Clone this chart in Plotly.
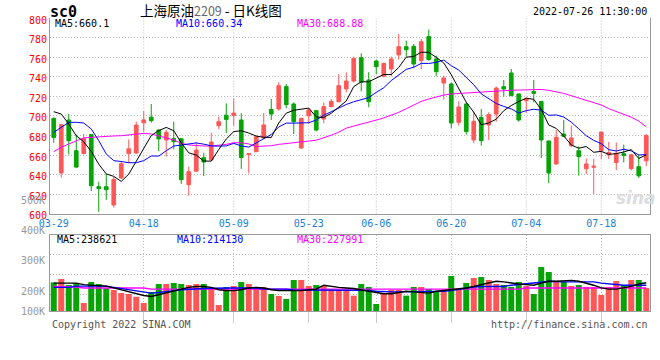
import plotly.graph_objects as go

# ---------------- data ----------------
dates = ["03-29", "03-30", "03-31",
         "04-01", "04-06", "04-07", "04-08", "04-11", "04-12", "04-13", "04-14", "04-15",
         "04-18", "04-19", "04-20", "04-21", "04-22", "04-25", "04-26", "04-27", "04-28", "04-29",
         "05-05", "05-06", "05-09", "05-10", "05-11", "05-12", "05-13", "05-16", "05-17", "05-18",
         "05-19", "05-20", "05-23", "05-24", "05-25", "05-26", "05-27", "05-30", "05-31",
         "06-01", "06-02", "06-06", "06-07", "06-08", "06-09", "06-10", "06-13", "06-14", "06-15",
         "06-16", "06-17", "06-20", "06-21", "06-22", "06-23", "06-24", "06-27", "06-28", "06-29",
         "06-30", "07-01", "07-04", "07-05", "07-06", "07-07", "07-08", "07-11", "07-12", "07-13",
         "07-14", "07-15", "07-18", "07-19", "07-20", "07-21", "07-22", "07-25", "07-26"]

open_ = [697.6, 641.6, 695.9, 664.4, 661.5, 681.0, 627.5, 627.5, 608.7, 636.5,
         661.5, 662.0, 693.0, 698.8, 685.6, 675.4, 676.7, 676.7, 629.5, 643.4,
         657.2, 655.0, 690.1, 700.8, 700.5, 695.9, 660.3, 663.4, 677.5, 706.8,
         707.2, 730.1, 712.3, 667.2, 700.3, 705.5, 696.9, 709.6, 714.7, 727.7,
         735.9, 759.8, 736.9, 756.4, 740.7, 748.2, 762.6, 771.1, 771.5, 756.8,
         781.4, 758.5, 733.8, 732.8, 693.5, 712.3, 675.4, 698.6, 690.8, 702.0,
         730.1, 744.1, 722.6, 715.6, 725.0, 715.0, 674.4, 650.8, 681.5, 669.6,
         664.4, 645.8, 647.4, 664.4, 660.2, 652.3, 661.4, 646.0, 648.0, 654.0]
high = [698.5, 692.0, 702.0, 681.0, 681.5, 681.5, 632.5, 640.5, 637.5, 654.0,
        676.0, 694.2, 705.0, 712.3, 686.0, 685.8, 694.1, 677.0, 648.0, 673.3,
        662.3, 682.9, 699.3, 713.0, 718.0, 702.9, 661.5, 680.0, 703.1, 717.4,
        734.5, 732.8, 714.0, 698.0, 708.2, 706.2, 714.0, 717.4, 743.1, 744.8,
        760.9, 764.3, 745.0, 757.8, 754.3, 760.9, 784.1, 777.3, 773.8, 779.0,
        788.5, 761.9, 741.4, 734.5, 715.0, 714.0, 704.0, 707.2, 703.8, 730.1,
        736.9, 748.2, 722.8, 719.1, 736.9, 715.2, 674.6, 685.6, 695.9, 690.1,
        669.0, 656.3, 656.3, 683.8, 673.3, 672.8, 670.7, 661.3, 660.0, 681.5]
low = [672.6, 637.0, 660.5, 647.0, 660.5, 623.0, 601.8, 614.0, 606.0, 635.4,
       651.5, 661.0, 684.0, 693.1, 664.0, 658.3, 665.8, 630.3, 618.3, 642.9,
       638.5, 654.2, 686.4, 682.5, 690.0, 645.8, 641.2, 663.0, 677.0, 695.9,
       705.5, 707.9, 681.5, 666.2, 691.8, 684.3, 692.5, 708.9, 714.0, 724.3,
       734.5, 725.3, 708.9, 743.0, 739.6, 740.7, 757.8, 760.9, 749.0, 748.2,
       756.8, 740.7, 716.8, 687.4, 690.1, 681.0, 672.0, 669.6, 675.4, 694.2,
       719.8, 720.2, 694.2, 703.1, 714.0, 656.9, 631.3, 650.0, 678.1, 667.9,
       638.8, 640.5, 620.0, 655.8, 655.8, 644.5, 652.5, 644.2, 636.5, 648.5]
close = [678.0, 691.0, 674.6, 647.6, 677.0, 628.5, 625.5, 624.4, 635.0, 651.0,
         666.3, 690.8, 696.0, 695.2, 676.5, 683.1, 673.6, 634.7, 642.9, 665.0,
         652.8, 673.3, 694.2, 696.5, 703.0, 657.4, 661.2, 678.8, 690.8, 702.0,
         731.1, 711.6, 694.2, 697.6, 706.2, 685.6, 709.6, 715.0, 731.1, 735.9,
         759.1, 734.5, 714.7, 750.6, 754.0, 758.5, 771.1, 768.0, 753.3, 776.2,
         757.8, 745.5, 739.0, 692.8, 709.2, 684.0, 694.5, 674.7, 701.4, 728.7,
         727.7, 720.9, 695.9, 718.0, 723.2, 675.4, 641.5, 678.1, 679.1, 677.4,
         658.3, 650.8, 648.5, 683.5, 662.5, 661.7, 659.5, 660.2, 638.6, 680.0]

ma5 = [704.4, 702.0, 691.8, 679.8, 673.6, 663.7, 650.6, 640.6, 638.1, 632.9,
       640.4, 653.5, 667.8, 679.9, 685.0, 688.3, 684.9, 672.6, 662.2, 659.9,
       653.8, 653.7, 665.6, 676.4, 684.0, 684.9, 682.5, 679.4, 678.2, 678.0,
       692.8, 702.9, 705.9, 707.3, 708.1, 699.0, 698.6, 702.8, 709.5, 715.4,
       730.1, 735.1, 735.1, 739.0, 742.6, 742.5, 749.8, 760.4, 761.0, 765.4,
       765.3, 760.2, 754.4, 742.3, 728.9, 714.1, 703.9, 691.0, 692.8, 696.7,
       705.4, 710.7, 714.9, 718.2, 717.1, 706.7, 690.8, 687.2, 679.5, 670.3,
       666.9, 668.7, 662.8, 663.7, 660.7, 661.4, 663.1, 665.5, 656.5, 660.1]
ma10 = [683.2, 688.3, 693.5, 693.5, 692.8, 686.7, 674.7, 661.0, 654.2, 653.3,
        652.1, 652.1, 654.2, 659.0, 658.9, 664.4, 669.2, 670.2, 671.0, 672.4,
        671.1, 669.3, 669.1, 669.3, 671.9, 669.3, 668.1, 672.5, 677.3, 681.0,
        688.8, 692.7, 692.7, 692.8, 693.1, 695.9, 700.8, 704.4, 708.4, 711.8,
        714.6, 716.9, 718.9, 724.2, 729.0, 736.3, 742.5, 747.8, 750.0, 754.0,
        753.9, 755.0, 757.4, 751.6, 747.1, 739.7, 732.0, 722.7, 717.5, 712.8,
        709.8, 707.3, 703.0, 705.5, 706.9, 706.0, 700.7, 701.1, 698.9, 693.7,
        686.8, 679.8, 675.0, 671.6, 665.5, 664.1, 665.9, 664.2, 660.1, 660.3]
ma30 = [663.5, 667.9, 671.3, 674.7, 677.5, 678.1, 678.8, 679.1, 679.5, 679.8,
        680.5, 681.5, 682.2, 681.5, 679.8, 677.5, 675.4, 672.0, 670.3, 669.6,
        669.2, 669.2, 669.9, 670.9, 672.6, 672.6, 671.3, 668.6, 669.2, 669.5,
        670.9, 671.6, 672.3, 673.0, 674.3, 675.2, 677.6, 680.3, 683.4, 687.5,
        689.7, 691.5, 693.6, 695.8, 698.0, 700.6, 703.8, 707.4, 711.0, 715.0,
        717.4, 719.6, 721.5, 722.6, 723.1, 723.6, 724.3, 724.8, 725.4, 726.0,
        726.2, 726.4, 726.6, 727.0, 727.5, 727.2, 726.3, 725.0, 723.2, 720.8,
        718.6, 716.4, 714.2, 711.3, 707.5, 704.8, 702.0, 698.8, 694.8, 688.9]

volume = [238500, 249500, 229700, 236300, 170300, 239600, 233000, 218800, 213200, 203300,
          200000, 191000, 170300, 206600, 233000, 233000, 236300, 233000, 229700, 233000,
          233000, 218800, 163700, 223100, 226400, 239600, 233000, 223100, 223100, 200000,
          193400, 183500, 246200, 246200, 226400, 229700, 226400, 213200, 213200, 213200,
          194500, 233000, 223100, 167000, 202200, 213200, 213200, 194500, 223100, 223100,
          216500, 207700, 207700, 259400, 213200, 236300, 252800, 256000, 246200, 233000,
          229700, 223100, 239600, 226400, 200000, 289000, 272600, 239600, 239600, 226400,
          229700, 223100, 223100, 196700, 223100, 242900, 229700, 246200, 246200, 219800]
vol_ma5 = [236000, 236000, 236000, 236000, 231000, 230000, 228000, 226000, 220000, 214000,
           207000, 201000, 195000, 192000, 198000, 203000, 209000, 214000, 222000, 225000,
           225000, 222000, 214000, 211000, 211000, 214000, 220000, 222000, 220000, 214000,
           211000, 211000, 211000, 211000, 214000, 216000, 229000, 225000, 222000, 220000,
           218000, 213000, 209000, 203000, 201000, 201000, 205000, 209000, 207000, 205000,
           203000, 209000, 212000, 214000, 216000, 220000, 225000, 231000, 236000, 242000,
           240000, 236000, 233000, 231000, 229000, 236000, 242000, 242000, 244000, 245000,
           242000, 236000, 229000, 220000, 216000, 216000, 220000, 225000, 233000, 237000]
vol_ma10 = [222000, 222000, 222000, 226000, 226000, 226000, 226000, 226000, 222000, 218000,
            214000, 211000, 207000, 203000, 205000, 209000, 211000, 214000, 216000, 216000,
            218000, 219000, 220000, 220000, 220000, 220000, 220000, 220000, 216000, 216000,
            216000, 216000, 213000, 213000, 213000, 213000, 213000, 213000, 213000, 213000,
            213000, 214000, 212000, 209000, 207000, 207000, 207000, 207000, 207000, 207000,
            207000, 207000, 209000, 211000, 215000, 220000, 223000, 225000, 225000, 225000,
            225000, 229000, 231000, 233000, 235000, 239000, 242000, 240000, 240000, 240000,
            240000, 240000, 240000, 236000, 233000, 231000, 229000, 229000, 229000, 229000]
vol_ma30 = [225000, 223000, 223000, 223000, 220000, 220000, 220000, 220000, 220000, 220000,
            220000, 220000, 220000, 216000, 216000, 216000, 216000, 216000, 216000, 216000,
            216000, 216000, 216000, 216000, 216000, 216000, 216000, 216000, 216000, 216000,
            214000, 214000, 214000, 214000, 214000, 214000, 214000, 214000, 214000, 214000,
            214000, 214000, 214000, 214000, 214000, 214000, 214000, 214000, 214000, 214000,
            214000, 214000, 214000, 216000, 216000, 216000, 216000, 216000, 216000, 216000,
            216000, 216000, 216000, 220000, 220000, 220000, 220000, 220000, 220000, 220000,
            220000, 220000, 220000, 220000, 220000, 220000, 220000, 220000, 220000, 220000]

date_ticks = ["03-29", "04-18", "05-09", "05-23", "06-06", "06-20", "07-04", "07-18"]
price_ticks = [600, 620, 640, 660, 680, 700, 720, 740, 760, 780, 800]
vol_label_values = [100000, 200000, 300000, 400000, 500000]
vol_label_text = ["100K", "200K", "300K", "400K", "500K"]

# ---------------- styling / layout ----------------
RED = "#FF5757"
GREEN = "#07A307"
GRID = "#b8b8b8"
BORDER = "#9a9a9a"
MONO = "DejaVu Sans Mono"

PL, PW, PB, PH = 50, 600, 311, 293          # plot box in px (left, width, bottom, height)
def px_x(px):
    return (px - PL) / PW
def px_y(py):
    return (PB - py) / PH

main_dom = [px_y(213.5), 1.0]
vol_dom = [0.0, px_y(234.5)]
vmin = 200000 - (311 - 294) / 30.3 * 100000
vmax = 200000 + (294 - 234.5) / 30.3 * 100000

fig = go.Figure()

fig.add_trace(go.Candlestick(
    x=dates, open=open_, high=high, low=low, close=close,
    increasing=dict(line=dict(color=RED, width=1), fillcolor=RED),
    decreasing=dict(line=dict(color=GREEN, width=1), fillcolor=GREEN),
    whiskerwidth=0, xaxis="x", yaxis="y", hoverinfo="skip"))

for vals, col in [(ma30, "#FF00FF"), (ma10, "#0000FF"), (ma5, "#000000")]:
    fig.add_trace(go.Scatter(x=dates, y=vals, mode="lines",
                             line=dict(color=col, width=1), xaxis="x", yaxis="y",
                             hoverinfo="skip"))

bar_colors = [RED if c >= o else GREEN for o, c in zip(open_, close)]
fig.add_trace(go.Bar(x=dates, y=volume, marker=dict(color=bar_colors, line=dict(width=0)),
                     xaxis="x2", yaxis="y2", hoverinfo="skip"))
for vals, col in [(vol_ma30, "#FF00FF"), (vol_ma10, "#0000FF"), (vol_ma5, "#000000")]:
    fig.add_trace(go.Scatter(x=dates, y=vals, mode="lines",
                             line=dict(color=col, width=1.4), xaxis="x2", yaxis="y2",
                             hoverinfo="skip"))

# vertical dotted grid lines in the price panel
for d in date_ticks[1:]:
    fig.add_shape(type="line", xref="x", yref="y domain", x0=d, x1=d, y0=0, y1=1,
                  line=dict(color=GRID, width=1, dash="1px,2px"), layer="below")

annotations = []
def txt(text, x, y, color="#000", size=10, xanchor="left", family=MONO, yshift=0, xref="paper", yref="paper"):
    annotations.append(dict(text=text, x=x, y=y, xref=xref, yref=yref, showarrow=False,
                            xanchor=xanchor, yanchor="middle", yshift=yshift,
                            font=dict(color=color, size=size, family=family)))

txt("<b>sc0</b>", px_x(48), px_y(12), size=15)
txt("上海原油<span style='color:#666666;font-size:12.5px'>2209</span> - 日K线图",
    px_x(138), px_y(10), size=13.5, family="Noto Sans CJK SC")
txt("2022-07-26 11:30:00", px_x(649), px_y(12), xanchor="right")
txt("MA5:660.1", px_x(53), px_y(24))
txt("MA10:660.34", px_x(174), px_y(24), color="#0000FF")
txt("MA30:688.88", px_x(295), px_y(24), color="#FF00FF")
txt("MA5:238621", px_x(55), px_y(240))
txt("MA10:214130", px_x(175), px_y(240), color="#0000FF")
txt("MA30:227991", px_x(295), px_y(240), color="#FF00FF")
txt("Copyright 2022 SINA.COM", px_x(50), px_y(324), color="#555555")
txt("http://finance.sina.com.cn", px_x(650), px_y(324), color="#555555", xanchor="right")
txt("<b><i>sina</i></b>", px_x(636), px_y(198), color="#dcdcdc", size=17, xanchor="center",
    family="DejaVu Sans")

for v, t in zip(vol_label_values, vol_label_text):
    if v < vmin:
        yy, sh = vol_dom[0], 0
    else:
        yy, sh = vol_dom[0] + (v - vmin) / (vmax - vmin) * (vol_dom[1] - vol_dom[0]), 3
    txt(t, px_x(47), yy, color="#999999", xanchor="right", yshift=sh)

fig.update_layout(
    width=660, height=360,
    margin=dict(l=50, r=10, t=18, b=49),
    paper_bgcolor="white", plot_bgcolor="white",
    showlegend=False, hovermode=False,
    font=dict(family=MONO, size=10),
    bargap=0.2,
    annotations=annotations,
    xaxis=dict(domain=[0, 1], anchor="y", type="category", categoryorder="array",
               categoryarray=dates, range=[-0.5, len(dates) - 0.5],
               rangeslider=dict(visible=False), tickmode="array",
               tickvals=date_ticks, ticktext=date_ticks, ticks="",
               tickfont=dict(color="#1a7fd4", size=10, family=MONO),
               showgrid=False, zeroline=False, showline=True, linecolor=BORDER, linewidth=1),
    yaxis=dict(domain=main_dom, anchor="x", range=[600, 800.5], tickmode="array",
               tickvals=price_ticks, ticktext=[str(p) for p in price_ticks], ticks="",
               tickfont=dict(color="#FF0000", size=10, family=MONO), ticklabelshift=2,
               showgrid=True, gridcolor=GRID, gridwidth=1, griddash="1px,2px",
               zeroline=False, showline=True, mirror=True, linecolor=BORDER, linewidth=1),
    xaxis2=dict(domain=[0, 1], anchor="y2", type="category", matches="x",
                categoryorder="array", categoryarray=dates, tickmode="array",
                tickvals=date_ticks[1:], showticklabels=False, ticks="outside", ticklen=11,
                tickcolor="#cccccc", showgrid=True, gridcolor=GRID, griddash="1px,2px",
                zeroline=False, showline=True, mirror=True, linecolor=BORDER, linewidth=1),
    yaxis2=dict(domain=vol_dom, anchor="x2", range=[vmin, vmax], tickmode="array",
                tickvals=[198300, 264400, 330400], showticklabels=False, ticks="",
                showgrid=True, gridcolor=GRID, griddash="1px,2px", zeroline=False,
                showline=True, mirror=True, linecolor=BORDER, linewidth=1),
)

fig.write_html("out.html", config={"displayModeBar": False},
               post_script="document.body.style.margin='0px';")
